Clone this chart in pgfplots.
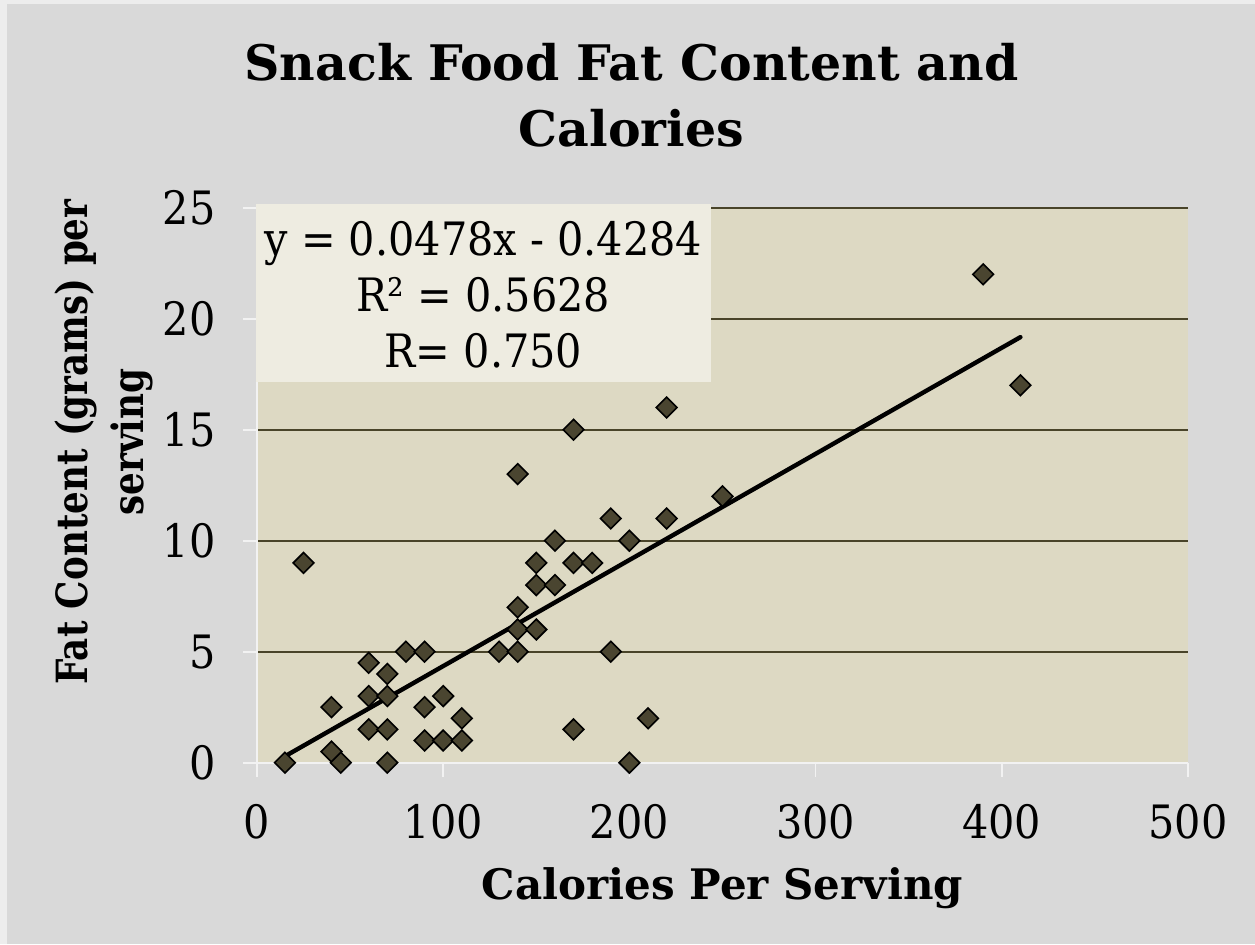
\documentclass[border=0pt]{standalone}
\usepackage{pgfplots}
\pgfplotsset{compat=1.18}
\usepackage{fontspec}
\setmainfont{DejaVu Serif}
\newfontfamily\narrowfont{DejaVu Serif}[FakeStretch=0.9]
\newfontfamily\ylabfont{DejaVu Serif}[FakeStretch=0.83]
\definecolor{bgout}{HTML}{D9D9D9}
\definecolor{bgborder}{HTML}{EDEDED}
\definecolor{plotbg}{HTML}{DDD9C3}
\definecolor{gridc}{HTML}{494429}
\definecolor{markc}{HTML}{4A4530}
\definecolor{axisl}{HTML}{F2F2F2}
\definecolor{boxfill}{HTML}{EEECE1}
\begin{document}
\begin{tikzpicture}
\fill[bgborder] (0,0) rectangle (627.5pt,472pt);
\fill[bgout] (3.5pt,0) rectangle (627.5pt,470pt);
\begin{axis}[
  at={(128.5pt,90.65pt)}, anchor=south west,
  scale only axis, width=465.5pt, height=277.5pt,
  xmin=0, xmax=500, ymin=0, ymax=25,
  xtick={0,100,200,300,400,500}, ytick={0,5,10,15,20,25},
  clip=false,
  axis background/.style={fill=plotbg},
  axis x line*=bottom, axis y line*=left,
  axis line style={color=axisl, line width=0.8pt},
  tick style={color=axisl, line width=0.8pt},
  tick align=outside, major tick length=7pt,
  ymajorgrids, major grid style={color=gridc, line width=0.9pt},
  /pgf/number format/assume math mode=true,
  ticklabel style={font=\narrowfont\fontsize{23}{23}\selectfont, text=black},
  xticklabel style={anchor=center, inner sep=0pt, yshift=-22.5pt},
  yticklabel style={anchor=east, inner sep=0pt, xshift=-13.5pt},
]
\addplot[only marks, mark=square*, mark size=3.65pt,
  mark options={rotate=45, fill=markc, draw=black, line width=0.8pt}] table {
x y
15 0
25 9
40 0.5
40 2.5
45 0
60 4.5
60 3
60 1.5
70 4
70 3
70 1.5
70 0
80 5
90 5
90 2.5
90 1
100 3
100 1
110 2
110 1
130 5
140 5
140 6
140 7
140 13
150 9
150 8
150 6
160 10
160 8
170 15
170 9
170 1.5
180 9
190 11
190 5
200 10
200 0
210 2
220 16
220 11
250 12
390 22
410 17
};
\addplot[black, line width=2.2pt, line cap=round] coordinates {(15,0.2886) (410,19.1696)};
\end{axis}
\fill[boxfill] (128pt,281pt) rectangle (355.5pt,370pt);
\node[font=\narrowfont\fontsize{23}{28}\selectfont, align=center] at (241.75pt,324.8pt) {y = 0.0478x - 0.4284\\R² = 0.5628\\R= 0.750};
\node[font=\bfseries\fontsize{24.5}{33}\selectfont, align=center] at (315.75pt,424.5pt) {Snack Food Fat Content and\\Calories};
\node[font=\bfseries\fontsize{21}{21}\selectfont] at (361.25pt,28pt) {Calories Per Serving};
\node[rotate=90, font=\ylabfont\bfseries\fontsize{21.5}{28}\selectfont, align=center] at (52pt,251pt) {Fat Content (grams) per\\serving};
\end{tikzpicture}
\end{document}
